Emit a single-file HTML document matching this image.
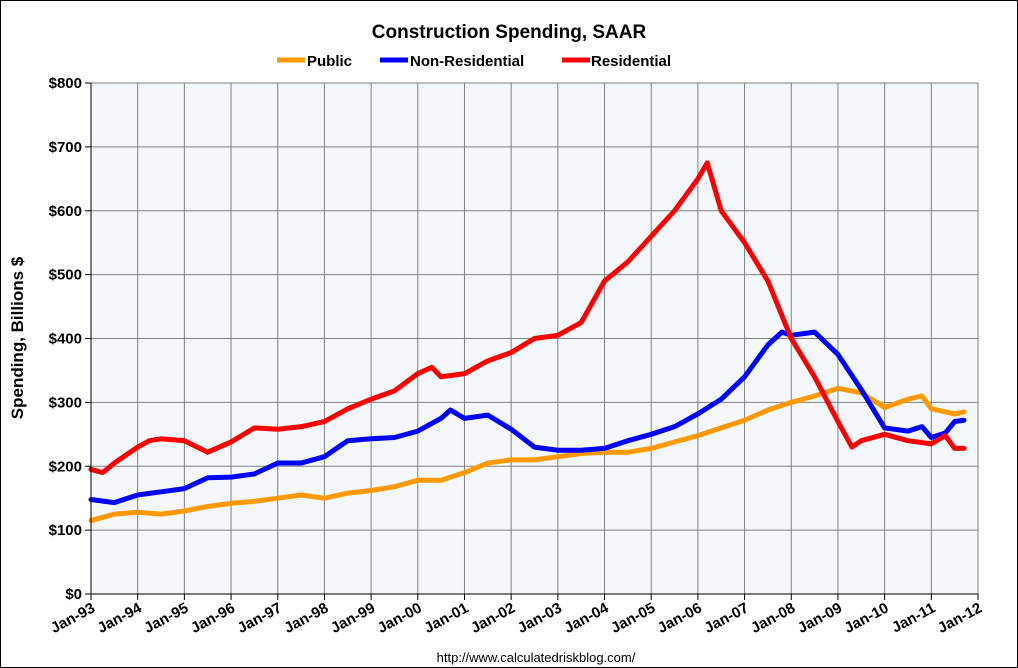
<!DOCTYPE html>
<html><head><meta charset="utf-8"><style>
body{margin:0;background:#fff;}
svg{display:block;font-family:"Liberation Sans",Arial,sans-serif;}
</style></head><body>
<svg id="chart" width="1018" height="668">
<rect x="0.5" y="0.5" width="1017" height="667" fill="#fff" stroke="#000"/>
<rect x="91" y="83" width="887" height="511" fill="#f4f8fc"/>
<text x="509" y="38" text-anchor="middle" font-size="19" font-weight="bold">Construction Spending, SAAR</text>
<g font-size="15" font-weight="bold">
<g><line x1="277" y1="60" x2="305" y2="60" stroke="#ff9900" stroke-width="5"/><text x="307" y="66">Public</text></g>
<g><line x1="380" y1="60" x2="408" y2="60" stroke="#0000ff" stroke-width="5"/><text x="410" y="66">Non-Residential</text></g>
<g><line x1="562" y1="60" x2="590" y2="60" stroke="#ff0000" stroke-width="5"/><text x="591" y="66">Residential</text></g>
</g>
<text transform="translate(23,338) rotate(-90)" text-anchor="middle" font-size="17" font-weight="bold">Spending, Billions $</text>
<text x="536" y="662" text-anchor="middle" font-size="13">http://www.calculatedriskblog.com/</text>
<g id="grid"></g><g id="series"></g><g id="axes"></g>
</svg>
<script>
const yTicks=[0,100,200,300,400,500,600,700,800];
const xTickLabels=["Jan-93","Jan-94","Jan-95","Jan-96","Jan-97","Jan-98","Jan-99","Jan-00","Jan-01","Jan-02","Jan-03","Jan-04","Jan-05","Jan-06","Jan-07","Jan-08","Jan-09","Jan-10","Jan-11","Jan-12"];
const tYears=[1993,1993.5,1994,1994.5,1995,1995.5,1996,1996.5,1997,1997.5,1998,1998.5,1999,1999.5,2000,2000.5,2001,2001.5,2002,2002.5,2003,2003.5,2004,2004.5,2005,2005.5,2006,2006.5,2007,2007.5,2008,2008.5,2009,2009.5,2010,2010.5,2010.8,2011,2011.5,2011.7];
const publicVals=[115,125,128,125,130,137,142,145,150,155,150,158,162,168,178,178,190,205,210,210,215,220,222,222,228,238,248,260,272,288,300,310,322,315,292,305,310,290,282,285];
const nonResTimes=[1993,1993.5,1994,1994.5,1995,1995.5,1996,1996.5,1997,1997.5,1998,1998.5,1999,1999.5,2000,2000.5,2000.7,2001,2001.5,2002,2002.5,2003,2003.5,2004,2004.5,2005,2005.5,2006,2006.5,2007,2007.5,2007.8,2008,2008.5,2009,2009.5,2010,2010.5,2010.8,2011,2011.3,2011.5,2011.7];
const nonResVals=[148,143,155,160,165,182,183,188,205,205,215,240,243,245,255,275,288,275,280,258,230,225,225,228,240,250,262,282,305,340,390,410,405,410,375,320,260,255,262,245,252,270,272];
const resTimes=[1993,1993.25,1993.5,1994,1994.25,1994.5,1995,1995.5,1996,1996.5,1997,1997.5,1998,1998.5,1999,1999.5,2000,2000.3,2000.5,2001,2001.5,2002,2002.5,2003,2003.5,2004,2004.5,2005,2005.5,2006,2006.2,2006.5,2007,2007.5,2008,2008.5,2009,2009.3,2009.5,2010,2010.5,2011,2011.3,2011.5,2011.7];
const resVals=[195,190,205,230,240,243,240,222,238,260,258,262,270,290,305,318,345,355,340,345,365,378,400,405,425,490,520,560,600,650,675,600,550,490,400,340,270,230,240,250,240,235,248,228,228];
const X0=91,X1=978,Y0=594,Y1=83;
const xs=t=>X0+(t-1993)/19*(X1-X0);
const ys=v=>Y0-v/800*(Y0-Y1);
const NS="http://www.w3.org/2000/svg";
const grid=document.getElementById('grid'),axes=document.getElementById('axes'),ser=document.getElementById('series');
function mk(tag,at,parent){const e=document.createElementNS(NS,tag);for(const k in at)e.setAttribute(k,at[k]);parent.appendChild(e);return e;}
yTicks.forEach(v=>{
 const l=mk('line',{x1:X0,x2:X1,y1:ys(v),y2:ys(v),stroke:'#808080','stroke-width':1},grid);
 
 
 mk('line',{x1:X0-6,x2:X0,y1:ys(v),y2:ys(v),stroke:'#000'},axes);
 const t=mk('text',{x:X0-9,y:ys(v)+5,'text-anchor':'end','font-size':15,'font-weight':'bold'},axes);
 t.textContent='$'+v;
 
 
});
xTickLabels.forEach((s,i)=>{
 const x=xs(1993+i);
 const l=mk('line',{x1:x,x2:x,y1:Y1,y2:Y0,stroke:'#808080','stroke-width':1},grid);
 
 
 mk('line',{x1:x,x2:x,y1:Y0,y2:Y0+6,stroke:'#000'},axes);
 const t=mk('text',{x:x+5,y:Y0+17,'text-anchor':'end','font-size':15,'font-weight':'bold',transform:`rotate(-28 ${x+5} ${Y0+17})`},axes);
 t.textContent=s;
 
 
});
mk('line',{x1:X0,x2:X0,y1:Y1,y2:Y0,stroke:'#000'},axes);
mk('line',{x1:X0,x2:X1,y1:Y0,y2:Y0,stroke:'#000'},axes);
function line(ts,vs,color,name){
 const p=mk('polyline',{points:ts.map((t,i)=>xs(t)+','+ys(vs[i])).join(' '),fill:'none',stroke:color,'stroke-width':5,'stroke-linejoin':'round','stroke-linecap':'round'},ser);
 
 
}
line(tYears,publicVals,'#ff9900','public-line');
line(nonResTimes,nonResVals,'#0000ff','non-residential-line');
line(resTimes,resVals,'#ff0000','residential-line');
</script>
</body></html>
